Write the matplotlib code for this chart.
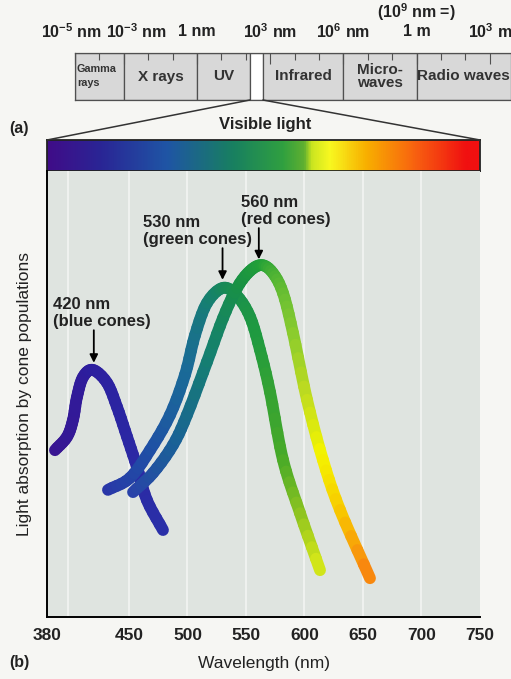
import matplotlib.pyplot as plt
import numpy as np
from matplotlib.colors import LinearSegmentedColormap, to_rgb
from matplotlib.patches import Rectangle, ConnectionPatch, PathPatch
from matplotlib.path import Path

plt.rcParams['font.family'] = ['Liberation Sans', 'DejaVu Sans']
plt.rcParams['font.weight'] = 'bold'
plt.rcParams['mathtext.fontset'] = 'custom'
plt.rcParams['mathtext.rm'] = 'Liberation Sans:bold'
plt.rcParams['mathtext.it'] = 'Liberation Sans:bold'
plt.rcParams['mathtext.default'] = 'rm'

# (a) electromagnetic spectrum, positions in decades of nm
band_names = ['Gamma\nrays', 'X rays', 'UV', '', 'Infrared', 'Micro-\nwaves', 'Radio waves']
band_edges = [-5, -3, 0, 2.17, 2.70, 6, 9, 12.87]
scale_ticks = [-5, -3, 0, 3, 6, 9, 12]
scale_label_pos = [-5.15, -2.5, 0, 3, 6, 9, 12]
scale_labels = ['10$^{-5}$ nm', '10$^{-3}$ nm', '1 nm', '10$^{3}$ nm',
                '10$^{6}$ nm', '1 m', '10$^{3}$ m']

# (b) cone absorption curves (wavelength nm, relative absorption)
blue_wl = [386.8, 397.1, 402.2, 405.6, 410.8, 419.3, 431.3, 439.8, 448.4, 456.9, 465.4, 479.1]
blue_ab = [37.4, 40.4, 44.2, 49.3, 53.8, 55.4, 52.5, 47.1, 40.4, 33.6, 26.2, 19.5]

green_wl = [432.1, 450.9, 468.0, 485.1, 497.9, 506.5, 516.7, 530.4, 542.4, 553.5,
            562.0, 570.6, 581.7, 596.2, 613.3]
green_ab = [28.5, 31.2, 37.4, 45.3, 54.3, 63.2, 70.4, 73.8, 72.0, 67.3,
            59.9, 50.4, 35.2, 23.3, 10.5]

red_wl = [453.5, 470.6, 487.7, 499.6, 516.7, 530.4, 542.4, 553.5, 563.7, 573.1,
          581.7, 590.2, 602.2, 615.8, 630.4, 656.0]
red_ab = [28.0, 32.3, 38.6, 45.3, 57.2, 67.0, 73.8, 77.6, 78.9, 77.1,
          72.6, 63.7, 48.7, 35.2, 24.0, 8.7]

peaks = [420, 530, 561]
peak_labels = ['420 nm\n(blue cones)', '530 nm\n(green cones)', '560 nm\n(red cones)']
arrow_top = [64.3, 82.7, 87.2]
arrow_tip = [57.0, 75.6, 80.2]
label_x = [385, 462, 546]

wl_ticks = [380, 450, 500, 550, 600, 650, 700, 750]
grid_wl = [398, 450, 500, 550, 600, 650, 700]

# colour stops
rainbow_stops = [(380, '#400c88'), (425, '#2a2595'), (482, '#1f55a5'), (539, '#188060'),
                 (582, '#30a040'), (600, '#60b030'), (606, '#c8e420'), (622, '#f8f820'),
                 (653, '#f8b000'), (696, '#f86010'), (739, '#f01010'), (750, '#f01010')]
blue_stops = [(385, '#3a1490'), (420, '#2c1e9e'), (480, '#2a30a8')]
green_stops = [(432, '#2a35a8'), (470, '#1f4fa5'), (500, '#1a6a98'), (520, '#168070'),
               (535, '#178a55'), (560, '#1f9a40'), (582, '#48aa28'), (598, '#90c420'),
               (613, '#d8e818')]
red_stops = [(453, '#2a40aa'), (490, '#1a6098'), (520, '#158070'), (545, '#189045'),
             (565, '#22a038'), (589, '#80c830'), (602, '#c0dc20'), (615, '#f4f400'),
             (632, '#f8c800'), (656, '#f88010')]


def stop_color(stops, w):
    xs = [s[0] for s in stops]
    cs = np.array([to_rgb(s[1]) for s in stops])
    return [np.interp(w, xs, cs[:, k]) for k in range(3)]


def split_cubic(c, t):
    p01 = (1 - t) * c[0] + t * c[1]
    p12 = (1 - t) * c[1] + t * c[2]
    p23 = (1 - t) * c[2] + t * c[3]
    p012 = (1 - t) * p01 + t * p12
    p123 = (1 - t) * p12 + t * p23
    p = (1 - t) * p012 + t * p123
    return np.array([c[0], p01, p012, p]), np.array([p, p123, p23, c[3]])


def draw_curve(ax, wl, ab, stops, sub=5):
    # smooth stroke through the read points, coloured along its length
    pts = np.column_stack([wl, ab])
    ext = np.vstack([2 * pts[0] - pts[1], pts, 2 * pts[-1] - pts[-2]])
    codes = [Path.MOVETO, Path.CURVE4, Path.CURVE4, Path.CURVE4]
    for i in range(len(pts) - 1):
        p0, p1, p2, p3 = ext[i], ext[i + 1], ext[i + 2], ext[i + 3]
        rest = np.array([p1, p1 + (p2 - p0) / 6, p2 - (p3 - p1) / 6, p2])
        for k in range(sub):
            if k < sub - 1:
                piece, rest = split_cubic(rest, 1.0 / (sub - k))
            else:
                piece = rest
            col = stop_color(stops, (piece[0, 0] + piece[3, 0]) / 2)
            ax.add_patch(PathPatch(Path(piece, codes), fill=False, ec=col, lw=8.5,
                                   capstyle='round', joinstyle='round', zorder=3))


fig = plt.figure(figsize=(5.11, 6.79), dpi=100)
fig.patch.set_facecolor('#f6f6f3')
W, H = 511, 679

# spectrum bar
ax_s = fig.add_axes([75 / W, 1 - 100 / H, (W - 75) / W, 47 / H])
ax_s.set_xlim(band_edges[0], band_edges[-1])
ax_s.set_ylim(0, 1)
for i, name in enumerate(band_names):
    lo, hi = band_edges[i], band_edges[i + 1]
    fc = 'white' if name == '' else '#d8d8d8'
    ax_s.add_patch(Rectangle((lo, 0), hi - lo, 1, fc=fc, ec='#505050', lw=0.9))
    if name.startswith('Gamma'):
        ax_s.text(lo + 0.08, 0.5, name, ha='left', va='center', fontsize=7.8,
                  color='#333333', linespacing=1.5)
    elif name:
        ax_s.text((lo + hi) / 2, 0.5, name, ha='center', va='center', fontsize=11,
                  color='#333333', linespacing=0.95)
ax_s.set_xticks(scale_ticks)
ax_s.set_xticks(np.arange(-4, 13), minor=True)
ax_s.tick_params(axis='x', which='both', direction='in', top=True, bottom=False,
                 labelbottom=False, color='#505050', width=0.8)
ax_s.tick_params(axis='x', which='major', length=8)
ax_s.tick_params(axis='x', which='minor', length=5)
ax_s.set_yticks([])
for sp in ax_s.spines.values():
    sp.set_color('#505050')
    sp.set_linewidth(0.9)
ax_s.spines['right'].set_visible(False)
trans = ax_s.get_xaxis_transform()
for t, lab in zip(scale_label_pos, scale_labels):
    ax_s.text(t, 1.45, lab, ha='center', va='center', fontsize=11.5,
              color='#222222', transform=trans)
ax_s.text(9, 1.86, '(10$^{9}$ nm =)', ha='center', va='center', fontsize=11.5,
          color='#222222', transform=trans)

# rainbow bar
ax_r = fig.add_axes([47 / W, 1 - 171 / H, 433 / W, 31 / H])
rainbow = LinearSegmentedColormap.from_list(
    'vis', [((w - 380) / 370, c) for w, c in rainbow_stops])
ax_r.imshow(np.linspace(0, 1, 500)[None, :], extent=[380, 750, 0, 1],
            aspect='auto', cmap=rainbow)
ax_r.set_xlim(380, 750)
ax_r.set_ylim(0, 1)
ax_r.set_xticks([])
ax_r.set_yticks([])
for sp in ax_r.spines.values():
    sp.set_color('#222222')
    sp.set_linewidth(1.3)

for xa, xb in [(band_edges[3], 380), (band_edges[4], 750)]:
    con = ConnectionPatch(xyA=(xa, 0), coordsA=ax_s.transData,
                          xyB=(xb, 1), coordsB=ax_r.transData,
                          color='#333333', lw=1.1)
    fig.add_artist(con)

fig.text(265 / W, 1 - 125 / H, 'Visible light', ha='center', va='center',
         fontsize=12, color='#222222')
fig.text(9 / W, 1 - 128 / H, '(a)', ha='left', va='center', fontsize=11.5,
         color='#222222')

# absorption plot
ax = fig.add_axes([47 / W, 1 - 617 / H, 433 / W, 446 / H])
ax.set_facecolor('#dfe4e0')
ax.set_xlim(380, 750)
ax.set_ylim(0, 100)
for g in grid_wl:
    ax.axvline(g, color='white', lw=1.2, alpha=0.6, zorder=0)

draw_curve(ax, blue_wl, blue_ab, blue_stops)
draw_curve(ax, green_wl, green_ab, green_stops)
draw_curve(ax, red_wl, red_ab, red_stops)

# peak arrows and labels
for p, lab, y0, y1, tx in zip(peaks, peak_labels, arrow_top, arrow_tip, label_x):
    ax.annotate('', xy=(p, y1), xytext=(p, y0),
                arrowprops=dict(arrowstyle='-|>', color='black', lw=1.3,
                                mutation_scale=12, shrinkA=0, shrinkB=0))
    ax.text(tx, y0 + 0.3, lab, ha='left', va='bottom', fontsize=12,
            color='#222222', linespacing=1.15)

ax.set_xticks(wl_ticks)
ax.set_yticks([])
ax.tick_params(axis='x', length=0, pad=8, labelsize=12.5, labelcolor='#222222')
ax.spines['top'].set_visible(False)
ax.spines['right'].set_visible(False)
ax.spines['left'].set_linewidth(1.4)
ax.spines['bottom'].set_linewidth(1.4)
ax.set_xlabel('Wavelength (nm)', fontsize=12.5, color='#222222', labelpad=9)
ax.set_ylabel('Light absorption by cone populations', fontsize=12.5,
              color='#222222', labelpad=11)
fig.text(9 / W, 1 - 662 / H, '(b)', ha='left', va='center', fontsize=11.5,
         color='#222222')

fig.savefig('out.png', dpi=100, facecolor=fig.get_facecolor())
